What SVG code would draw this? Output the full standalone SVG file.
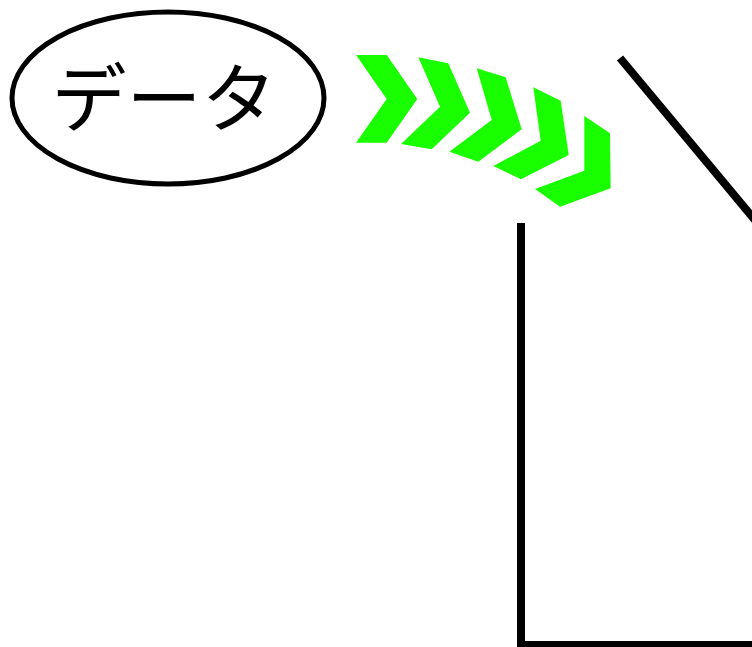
<svg xmlns="http://www.w3.org/2000/svg" width="752" height="647" viewBox="0 0 752 647">
<style>
.outline{fill:#fff;stroke:#000;stroke-width:5}
.lbl{font-family:"Noto Sans CJK JP","Noto Sans",sans-serif;font-size:75px;fill:#000;text-anchor:middle}
.chev{fill:#1aff00;stroke:none}
.edge{fill:none;stroke:#000;stroke-width:8}
</style>
<rect width="752" height="647" fill="#fff"/>
<g id="data">
<ellipse class="outline" cx="168" cy="98" rx="156" ry="86"/>
<text class="lbl" x="164" y="126">データ</text>
</g>
<g id="chevrons">
<polygon class="chev" points="356,55 386.7,55 417.3,99 386.7,142.7 356,142.7 386.7,99"/>
<polygon class="chev" points="418.3,57.3 448.3,63.3 470,112.7 431.7,149.3 401,144 440,106.7"/>
<polygon class="chev" points="476.7,68.3 505.7,77.3 521.7,129.3 478.3,161.7 449.3,151.7 491.7,120"/>
<polygon class="chev" points="533.3,87.3 560.7,100.7 568.7,155 521,179.3 493.3,166 540.7,140.7"/>
<polygon class="chev" points="584.3,116 610,133.3 610.7,188.3 560,206.7 535,189 584.3,170.7"/>
</g>
<g id="connectors">
<line class="edge" x1="620" y1="58" x2="770" y2="238" stroke-width="7"/>
<polyline class="edge" points="521,223 521,645 760,645"/>
</g>
</svg>
